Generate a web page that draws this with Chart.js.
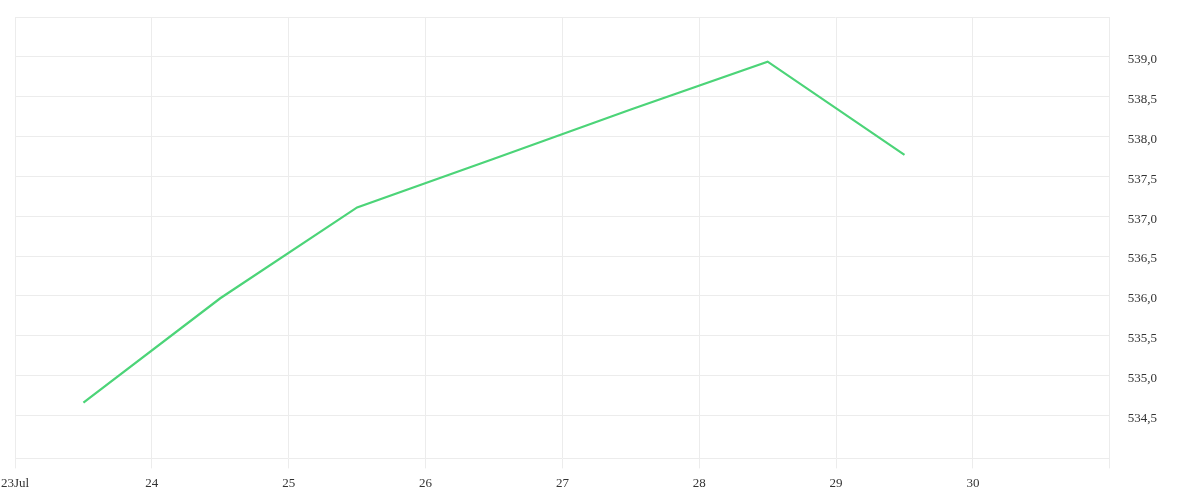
<!DOCTYPE html>
<html>
<head>
<meta charset="utf-8">
<script src="https://cdn.jsdelivr.net/npm/chart.js@4/dist/chart.umd.min.js"></script>
<style>
html,body{margin:0;padding:0;background:#fff;}
#wrap{width:1200px;height:500px;position:relative;}
</style>
</head>
<body>
<div id="wrap"><canvas id="c"></canvas></div>
<script>
// Data (x = day of July, points at noon)
const days = [23.5, 24.5, 25.5, 26.5, 27.5, 28.5, 29.5];
const values = [534.66, 535.97, 537.11, 537.72, 538.34, 538.94, 537.77];
const xTickDays = [23, 24, 25, 26, 27, 28, 29, 30, 31];
const xTickLabels = ['23Jul', '24', '25', '26', '27', '28', '29', '30', ''];
const yTicks = [534.5, 535.0, 535.5, 536.0, 536.5, 537.0, 537.5, 538.0, 538.5, 539.0, 539.5];
const yTickLabels = ['534,5', '535,0', '535,5', '536,0', '536,5', '537,0', '537,5', '538,0', '538,5', '539,0', ''];

const points = days.map((d, i) => ({x: d, y: values[i]}));
const fontFamily = "'Liberation Serif', 'DejaVu Serif', serif";
const gridColor = '#ececec';

new Chart(document.getElementById('c'), {
  type: 'line',
  data: {
    datasets: [{
      data: points,
      borderColor: '#4cd478',
      borderWidth: 2.2,
      pointRadius: 0,
      tension: 0,
      fill: false
    }]
  },
  options: {
    responsive: true,
    maintainAspectRatio: false,
    animation: false,
    layout: {padding: {left: 15, right: 25, top: 17, bottom: 2}},
    plugins: {legend: {display: false}, tooltip: {enabled: false}},
    scales: {
      x: {
        type: 'linear',
        min: 23, max: 31,
        afterBuildTicks: (axis) => { axis.ticks = xTickDays.map(v => ({value: v})); },
        afterFit: (s) => { s.paddingLeft = 0; s.paddingRight = 0; },
        ticks: {
          autoSkip: false,
          maxRotation: 0,
          color: '#333',
          font: {family: fontFamily, size: 13},
          padding: 7,
          callback: (v) => { const i = xTickDays.indexOf(v); return i >= 0 ? xTickLabels[i] : ''; }
        },
        grid: {color: gridColor, tickLength: 10, tickColor: gridColor},
        border: {color: gridColor}
      },
      y: {
        position: 'right',
        min: 533.96, max: 539.5,
        afterBuildTicks: (axis) => { axis.ticks = yTicks.map(v => ({value: v})); },
        afterFit: (s) => { s.paddingTop = 0; s.paddingBottom = 0; },
        ticks: {
          autoSkip: false,
          color: '#333',
          font: {family: fontFamily, size: 13},
          padding: 18,
          labelOffset: 3,
          callback: (v) => { const i = yTicks.indexOf(v); return i >= 0 ? yTickLabels[i] : ''; }
        },
        grid: {color: gridColor, drawTicks: false},
        border: {color: gridColor}
      }
    }
  }
});
</script>
</body>
</html>
